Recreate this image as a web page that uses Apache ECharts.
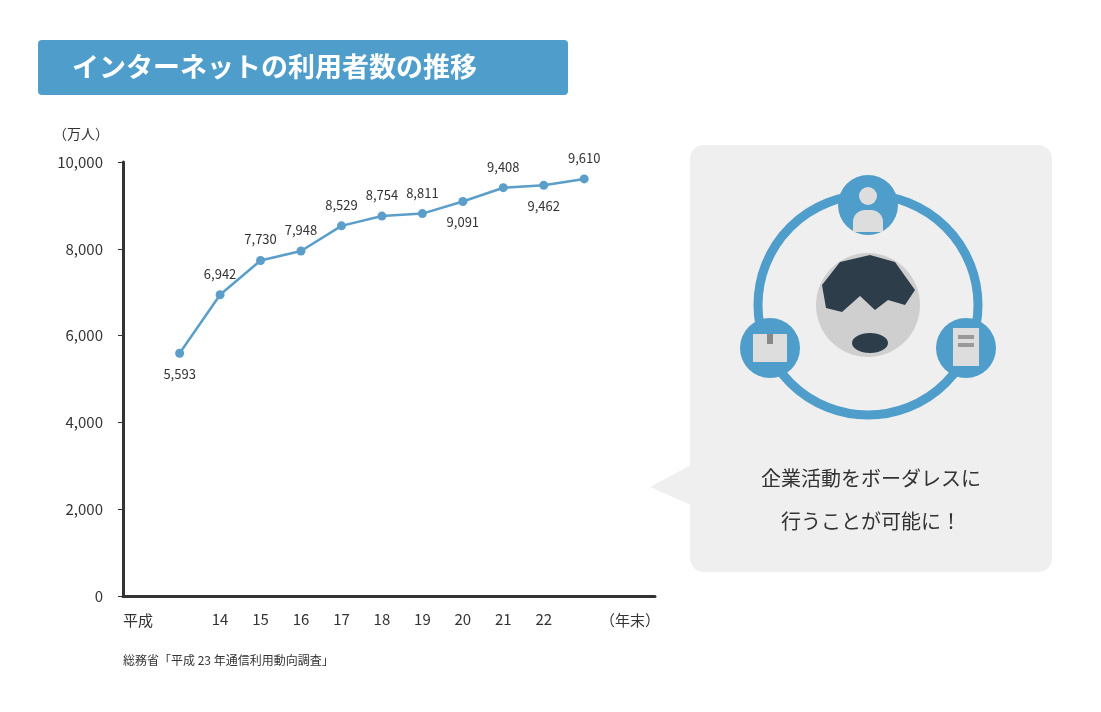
<!doctype html>
<html>
<head>
<meta charset="utf-8">
<title>インターネットの利用者数の推移</title>
<style>
  html,body{margin:0;width:100%;height:100%;background:#fff;}
  #chart{width:1101px;height:712px;}
</style>
</head>
<body>
<div id="chart"></div>
<script src="https://cdn.jsdelivr.net/npm/echarts@6/dist/echarts.min.js"></script>
<script>
var years = [13, 14, 15, 16, 17, 18, 19, 20, 21, 22, 23];
var users = [5593, 6942, 7730, 7948, 8529, 8754, 8811, 9091, 9408, 9462, 9610];
var labelBelow = [true, false, false, false, false, false, false, true, false, true, false];
var yTicks = [0, 2000, 4000, 6000, 8000, 10000];

var blue = '#5a9ec9';
var dark = '#333';
var font = '"Noto Sans CJK JP", "Noto Sans", sans-serif';

var chart = echarts.init(document.getElementById('chart'));

var pts = years.map(function (y, i) {
  return {
    value: [y, users[i]],
    label: { position: labelBelow[i] ? 'bottom' : 'top' }
  };
});

var option = {
  animation: false,
  textStyle: { fontFamily: font },
  grid: { left: 123, right: 446, top: 162, bottom: 116 },
  xAxis: {
    type: 'value', min: 11.6, max: 24.75,
    splitLine: { show: false },
    axisTick: { show: false },
    axisLine: { lineStyle: { color: '#333', width: 3 } },
    axisLabel: {
      color: dark, fontSize: 15, margin: 16,
      showMinLabel: false, showMaxLabel: false,
      customValues: years,
      formatter: function (v) { return String(v); }
    }
  },
  yAxis: {
    type: 'value', min: 0, max: 10000, interval: 2000,
    splitLine: { show: false },
    axisLine: { show: true, lineStyle: { color: '#333', width: 3 } },
    axisLabel: {
      color: dark, fontSize: 15, margin: 20,
      formatter: function (v) { return v.toLocaleString('en-US'); }
    }
  },
  series: [{
    type: 'line',
    data: pts,
    symbol: 'circle', symbolSize: 9,
    lineStyle: { color: blue, width: 2.5 },
    itemStyle: { color: blue },
    label: {
      show: true, color: dark, fontSize: 13, distance: 10,
      formatter: function (p) { return p.value[1].toLocaleString('en-US'); }
    }
  }],
  graphic: [
    { type: 'rect', shape: { x: 38, y: 40, width: 530, height: 55, r: 4 }, style: { fill: '#4f9dca' } },
    { type: 'text', x: 72, y: 67, style: { text: 'インターネットの利用者数の推移', fill: '#fff', font: 'bold 27px ' + font, textVerticalAlign: 'middle' } },
    { type: 'text', x: 53, y: 134, style: { text: '（万人）', fill: dark, font: '14px ' + font, textVerticalAlign: 'middle' } },
    { type: 'text', x: 123, y: 620, style: { text: '平成', fill: dark, font: '15px ' + font, textVerticalAlign: 'middle' } },
    { type: 'text', x: 600, y: 620, style: { text: '（年末）', fill: dark, font: '15px ' + font, textVerticalAlign: 'middle' } },
    { type: 'text', x: 123, y: 660, style: { text: '総務省「平成 23 年通信利用動向調査」', fill: dark, font: '12px ' + font, textVerticalAlign: 'middle' } },
    // panel
    { type: 'rect', shape: { x: 690, y: 145, width: 362, height: 427, r: 14 }, style: { fill: '#efefef' } },
    { type: 'polygon', shape: { points: [[691, 465], [650, 487], [691, 505]] }, style: { fill: '#efefef' } },
    { type: 'circle', shape: { cx: 868, cy: 305, r: 110 }, style: { fill: 'none', stroke: '#4f9dca', lineWidth: 9 } },
    { type: 'circle', shape: { cx: 868, cy: 305, r: 52 }, style: { fill: '#cfcfcf' } },
    { type: 'polygon', shape: { points: [[822, 285], [840, 262], [870, 255], [895, 262], [915, 290], [905, 305], [888, 300], [875, 310], [860, 296], [842, 312], [826, 308]] }, style: { fill: '#2d3e4a' } },
    { type: 'ellipse', shape: { cx: 870, cy: 343, rx: 18, ry: 10 }, style: { fill: '#2d3e4a' } },
    { type: 'circle', shape: { cx: 868, cy: 205, r: 30 }, style: { fill: '#4f9dca' } },
    { type: 'circle', shape: { cx: 868, cy: 196, r: 9 }, style: { fill: '#ddd' } },
    { type: 'rect', shape: { x: 853, y: 210, width: 30, height: 22, r: [12, 12, 0, 0] }, style: { fill: '#ddd' } },
    { type: 'circle', shape: { cx: 770, cy: 348, r: 30 }, style: { fill: '#4f9dca' } },
    { type: 'rect', shape: { x: 753, y: 334, width: 34, height: 28 }, style: { fill: '#ddd' } },
    { type: 'rect', shape: { x: 767, y: 334, width: 6, height: 10 }, style: { fill: '#888' } },
    { type: 'circle', shape: { cx: 966, cy: 348, r: 30 }, style: { fill: '#4f9dca' } },
    { type: 'rect', shape: { x: 953, y: 328, width: 26, height: 38 }, style: { fill: '#ddd' } },
    { type: 'rect', shape: { x: 958, y: 335, width: 16, height: 4 }, style: { fill: '#999' } },
    { type: 'rect', shape: { x: 958, y: 343, width: 16, height: 4 }, style: { fill: '#999' } },
    { type: 'text', x: 871, y: 478, style: { text: '企業活動をボーダレスに', fill: dark, font: '20px ' + font, textAlign: 'center', textVerticalAlign: 'middle' } },
    { type: 'text', x: 871, y: 521, style: { text: '行うことが可能に！', fill: dark, font: '20px ' + font, textAlign: 'center', textVerticalAlign: 'middle' } }
  ]
};
chart.setOption(option);
</script>
</body>
</html>
